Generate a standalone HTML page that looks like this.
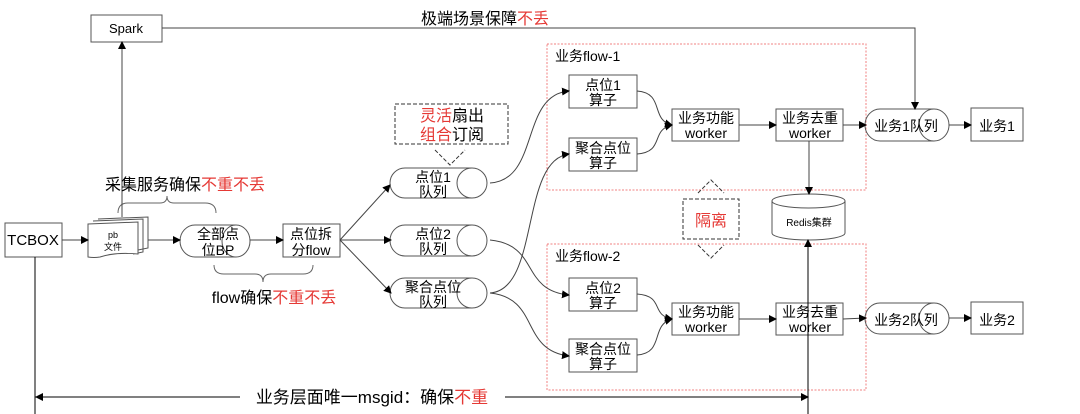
<!DOCTYPE html>
<html><head><meta charset="utf-8"><style>
html,body{margin:0;padding:0;background:#fff;}
svg{display:block;font-family:"Liberation Sans","Noto Sans CJK SC",sans-serif;}
</style></head><body>
<svg width="1080" height="414" viewBox="0 0 1080 414" xmlns="http://www.w3.org/2000/svg">
<defs>
<marker id="a" markerWidth="8" markerHeight="8" refX="7" refY="4" orient="auto" markerUnits="userSpaceOnUse"><path d="M0,0 L8,4 L0,8 z" fill="#000"/></marker>
</defs>
<g fill="none" stroke="#555" stroke-width="1">
<rect x="547" y="44" width="319" height="146" stroke="#f08080" stroke-dasharray="2,1.5"/>
<rect x="547" y="244" width="319" height="146" stroke="#f08080" stroke-dasharray="2,1.5"/>
<rect x="91" y="15" width="71" height="27"/>
<rect x="5" y="223" width="57" height="34"/>
<rect x="283" y="224" width="57" height="33"/>
<rect x="569" y="75" width="68" height="33"/>
<rect x="569" y="138" width="68" height="33"/>
<rect x="672" y="109" width="67" height="32"/>
<rect x="776" y="109" width="67" height="32"/>
<rect x="971" y="108" width="52" height="33"/>
<rect x="569" y="278" width="68" height="33"/>
<rect x="569" y="339" width="68" height="33"/>
<rect x="672" y="303" width="67" height="32"/>
<rect x="776" y="303" width="67" height="32"/>
<rect x="971" y="302" width="52" height="32"/>
<path d="M98,219 L148,217 L148,248 L138,250"/>
<path d="M93,221 L143,219 L143,252 L133,254"/>
<path d="M88,224 L138,222 L138,254 Q115,252 100,257 Q94,258 88,257 Z" fill="#fff"/>
<path d="M195,225 L236,225 A14,16 0 0 1 236,257 L195,257 A15,16 0 0 1 195,225 Z"/>
<path d="M236,225 A14,16 0 0 0 236,257"/>
<path d="M405,168 L472,168 A15,15 0 0 1 472,198 L405,198 A15,15 0 0 1 405,168 Z"/><path d="M472,168 A15,15 0 0 0 472,198"/>
<path d="M405,225 L472,225 A15,15.5 0 0 1 472,256 L405,256 A15,15.5 0 0 1 405,225 Z"/><path d="M472,225 A15,15.5 0 0 0 472,256"/>
<path d="M405,278 L472,278 A15,15 0 0 1 472,308 L405,308 A15,15 0 0 1 405,278 Z"/><path d="M472,278 A15,15 0 0 0 472,308"/>
<path d="M880,109 L934,109 A15,16 0 0 1 934,141 L880,141 A15,16 0 0 1 880,109 Z"/><path d="M934,109 A15,16 0 0 0 934,141"/>
<path d="M880,303 L934,303 A15,15.5 0 0 1 934,334 L880,334 A15,15.5 0 0 1 880,303 Z"/><path d="M934,303 A15,15.5 0 0 0 934,334"/>
<path d="M772,201 L772,233 A36.5,7 0 0 0 845,233 L845,201"/>
<ellipse cx="808.5" cy="201" rx="36.5" ry="7"/>
<path d="M395,104 L508,104 L508,144 L395,144 Z M435,150 L450,165 L465,150" stroke="#333" stroke-dasharray="4,2"/>
<path d="M683,199 L739,199 L739,239 L683,239 Z" stroke="#333" stroke-dasharray="4,2"/>
<path d="M698,193 L711,180 L724,193 M698,245 L711,258 L724,245" stroke="#333" stroke-dasharray="4,2"/>
<path d="M118,213 Q118,203 128,203 L160,203 Q167,203 167,196 Q167,203 174,203 L205,203 Q216,203 216,213" stroke="#666"/>
<path d="M214,265 Q214,274 224,274 L255,274 Q263,274 263,282 Q263,274 271,274 L303,274 Q313,274 313,265" stroke="#666"/>
</g>
<g fill="none" stroke="#444" stroke-width="1" marker-end="url(#a)">
<path d="M62,240 L88,240"/>
<path d="M148,240 L180,240"/>
<path d="M250,240 L283,240"/>
<path d="M122,217 L122,42"/>
<path d="M340,240 L390,185"/>
<path d="M340,240 L391,240"/>
<path d="M340,240 L391,293"/>
<path d="M490,183 C540,180 520,95 569,91"/>
<path d="M490,293 C540,290 520,160 569,154"/>
<path d="M490,240 C540,245 520,290 569,295"/>
<path d="M490,293 C540,298 520,350 569,356"/>
<path d="M637,91 C665,93 650,120 672,125"/>
<path d="M637,154 C665,152 650,130 672,125"/>
<path d="M637,294 C665,296 650,315 672,319"/>
<path d="M637,355 C665,353 650,325 672,319"/>
<path d="M739,125 L776,125"/>
<path d="M739,319 L776,319"/>
<path d="M843,125 L866,125"/>
<path d="M843,319 L866,318"/>
<path d="M949,125 L971,125"/>
<path d="M949,318 L971,318"/>
<path d="M809,141 L809,194"/>
<path d="M162,28 L915,28 L915,109"/>
<path d="M808,414 L808,240" stroke="#000"/>
<path d="M35,397 L808,397" stroke="#000"/>
</g>
<path d="M35,257 L35,414" stroke="#000"/>
<path d="M43,393 L35,397 L43,401 z" fill="#000"/>
<g font-size="14" fill="#000" text-anchor="middle">
<text x="126" y="33" font-size="13">Spark</text>
<text x="33" y="245" font-size="15">TCBOX</text>
<text x="113" y="238" font-size="9">pb</text>
<text x="113" y="250" font-size="9">文件</text>
<text x="218" y="239">全部点</text><text x="218" y="255">位BP</text>
<text x="311" y="239">点位拆</text><text x="311" y="255">分flow</text>
<text x="433" y="182">点位1</text><text x="433" y="197">队列</text>
<text x="433" y="239">点位2</text><text x="433" y="254">队列</text>
<text x="433" y="292">聚合点位</text><text x="433" y="307">队列</text>
<text x="603" y="90">点位1</text><text x="603" y="105">算子</text>
<text x="603" y="153">聚合点位</text><text x="603" y="168">算子</text>
<text x="706" y="123">业务功能</text><text x="706" y="138">worker</text>
<text x="810" y="123">业务去重</text><text x="810" y="138">worker</text>
<text x="906" y="131">业务1队列</text>
<text x="997" y="131">业务1</text>
<text x="603" y="293">点位2</text><text x="603" y="308">算子</text>
<text x="603" y="354">聚合点位</text><text x="603" y="369">算子</text>
<text x="706" y="317">业务功能</text><text x="706" y="332">worker</text>
<text x="810" y="317">业务去重</text><text x="810" y="332">worker</text>
<text x="906" y="325">业务2队列</text>
<text x="997" y="325">业务2</text>
<text x="809" y="226" font-size="10">Redis集群</text>
<text x="555" y="61" text-anchor="start">业务flow-1</text>
<text x="555" y="261" text-anchor="start">业务flow-2</text>
</g>
<g font-size="16" text-anchor="middle">
<text x="452" y="121"><tspan fill="#e53935">灵活</tspan>扇出</text>
<text x="452" y="140"><tspan fill="#e53935">组合</tspan>订阅</text>
<text x="711" y="226" fill="#e53935">隔离</text>
<text x="485" y="24"><tspan>极端场景保障</tspan><tspan fill="#e53935">不丢</tspan></text>
<text x="185" y="190">采集服务确保<tspan fill="#e53935">不重不丢</tspan></text>
<text x="274" y="303">flow确保<tspan fill="#e53935">不重不丢</tspan></text>
</g>
<rect x="240" y="386" width="265" height="22" fill="#fff"/>
<text x="372" y="403" font-size="17" text-anchor="middle">业务层面唯一msgid：确保<tspan fill="#e53935">不重</tspan></text>
</svg>
</body></html>
